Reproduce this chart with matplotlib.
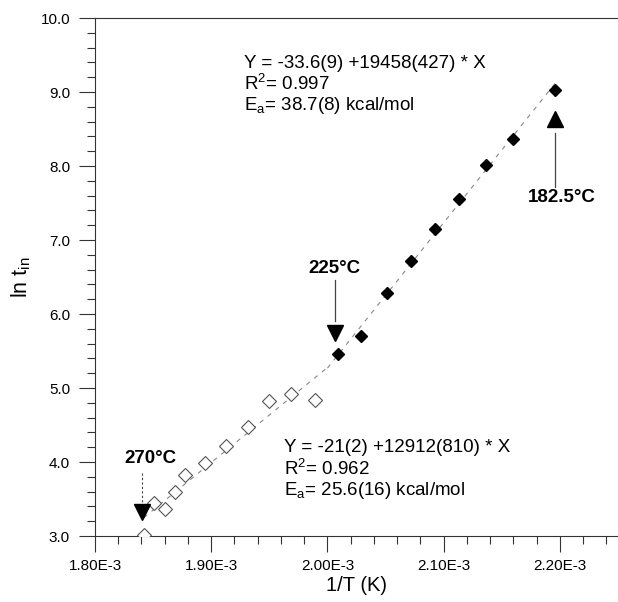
import numpy as np
import matplotlib
matplotlib.use("Agg")
import matplotlib.pyplot as plt
from matplotlib.ticker import MultipleLocator, FuncFormatter

plt.rcParams['font.family'] = ['Liberation Sans', 'DejaVu Sans']

# filled diamonds (low temperature regime)
x_filled = [2.1957e-3, 2.1595e-3, 2.1362e-3, 2.1129e-3, 2.0922e-3, 2.0716e-3,
            2.0509e-3, 2.0293e-3, 2.0095e-3]
y_filled = [9.03, 8.36, 8.01, 7.56, 7.15, 6.71, 6.29, 5.70, 5.46]

# open diamonds (high temperature regime)
x_open = [1.8422e-3, 1.8509e-3, 1.8603e-3, 1.8687e-3, 1.8776e-3, 1.8946e-3,
          1.9127e-3, 1.9316e-3, 1.9500e-3, 1.9684e-3, 1.9890e-3]
y_open = [3.01, 3.45, 3.37, 3.60, 3.83, 3.98, 4.22, 4.47, 4.82, 4.92, 4.84]

# fit-line ranges
fit_filled_range = [2.000e-3, 2.197e-3]
fit_open_range = [1.842e-3, 2.000e-3]

# temperature markers
tri_labels = ["270°C", "225°C", "182.5°C"]
tri_x = [1.8405e-3, 2.0069e-3, 2.1957e-3]
tri_y = [3.32, 5.75, 8.63]

fit_text_top = ["Y = -33.6(9) +19458(427) * X", r"R$\mathregular{^2}$= 0.997",
                r"E$\mathregular{_a}$= 38.7(8) kcal/mol"]
fit_text_bot = ["Y = -21(2) +12912(810) * X", r"R$\mathregular{^2}$= 0.962",
                r"E$\mathregular{_a}$= 25.6(16) kcal/mol"]

fig = plt.figure(figsize=(6.18, 6.02), dpi=100)
ax = fig.add_axes([95/618, 1-536/602, (618-95)/618, (536-18)/602])

# fit lines
pf = np.polyfit(x_filled, y_filled, 1)
po = np.polyfit(x_open, y_open, 1)
xf = np.array(fit_filled_range)
xo = np.array(fit_open_range)
ax.plot(xf, np.polyval(pf, xf), color='#888888', lw=0.8, ls=(0, (4, 5)), zorder=1)
ax.plot(xo, np.polyval(po, xo), color='#888888', lw=0.8, ls=(0, (4, 5)), zorder=1)

ax.plot(x_filled, y_filled, ls='none', marker='D', ms=6.2, mfc='black', mec='black', zorder=3)
ax.plot(x_open, y_open, ls='none', marker='D', ms=6.8, mfc='white', mec='#555555', mew=0.8, zorder=3)

# triangles
ax.plot([tri_x[0]], [tri_y[0]], ls='none', marker='v', ms=12, color='black', zorder=4)
ax.plot([tri_x[1]], [tri_y[1]], ls='none', marker='v', ms=12, color='black', zorder=4)
ax.plot([tri_x[2]], [tri_y[2]], ls='none', marker='^', ms=12, color='black', zorder=4)

lab_kw = dict(fontsize=13.5, fontweight='bold', ha='center', va='center')
# annotation lines
ax.plot([tri_x[0], tri_x[0]], [3.85, 3.46], color='#444444', lw=0.8, ls=(0, (2, 2)))
ax.text(1.8474e-3, 4.05, tri_labels[0], **lab_kw)
ax.plot([tri_x[1], tri_x[1]], [6.46, 5.90], color='#444444', lw=0.9)
ax.text(2.0060e-3, 6.62, tri_labels[1], **lab_kw)
ax.plot([tri_x[2], tri_x[2]], [8.45, 7.72], color='#444444', lw=0.9)
ax.text(2.2017e-3, 7.57, tri_labels[2], **lab_kw)

# fit texts
for i, t in enumerate(fit_text_top):
    ax.text(1.9280e-3, 9.39 - i * 0.285, t, fontsize=13.5, ha='left', va='center')
for i, t in enumerate(fit_text_bot):
    ax.text(1.9625e-3, 4.19 - i * 0.285, t, fontsize=13.5, ha='left', va='center')

ax.set_xlim(1.80e-3, 2.25e-3)
ax.set_ylim(3.0, 10.0)
ax.xaxis.set_major_locator(MultipleLocator(0.1e-3))
ax.xaxis.set_minor_locator(MultipleLocator(0.02e-3))
ax.yaxis.set_major_locator(MultipleLocator(1.0))
ax.yaxis.set_minor_locator(MultipleLocator(0.2))
ax.xaxis.set_major_formatter(FuncFormatter(lambda v, p: f"{v*1e3:.2f}E-3"))
ax.yaxis.set_major_formatter(FuncFormatter(lambda v, p: f"{v:.1f}"))
ax.tick_params(axis='both', which='major', direction='out', length=11.5, width=0.8, labelsize=11, colors='#333333', labelcolor='black')
ax.tick_params(axis='both', which='minor', direction='out', length=5.5, width=0.8, colors='#333333')
ax.tick_params(axis='x', which='major', pad=5)
ax.tick_params(axis='y', which='major', pad=6.5)
for s in ['left', 'bottom', 'top']:
    ax.spines[s].set_color('#333333')
    ax.spines[s].set_linewidth(0.8)
ax.spines['right'].set_visible(False)

ax.set_xlabel("1/T (K)", fontsize=14.5, labelpad=2)
ax.set_ylabel(r"ln t$\mathregular{_{in}}$", fontsize=15.5, labelpad=5)

fig.savefig("out.png", dpi=100)
